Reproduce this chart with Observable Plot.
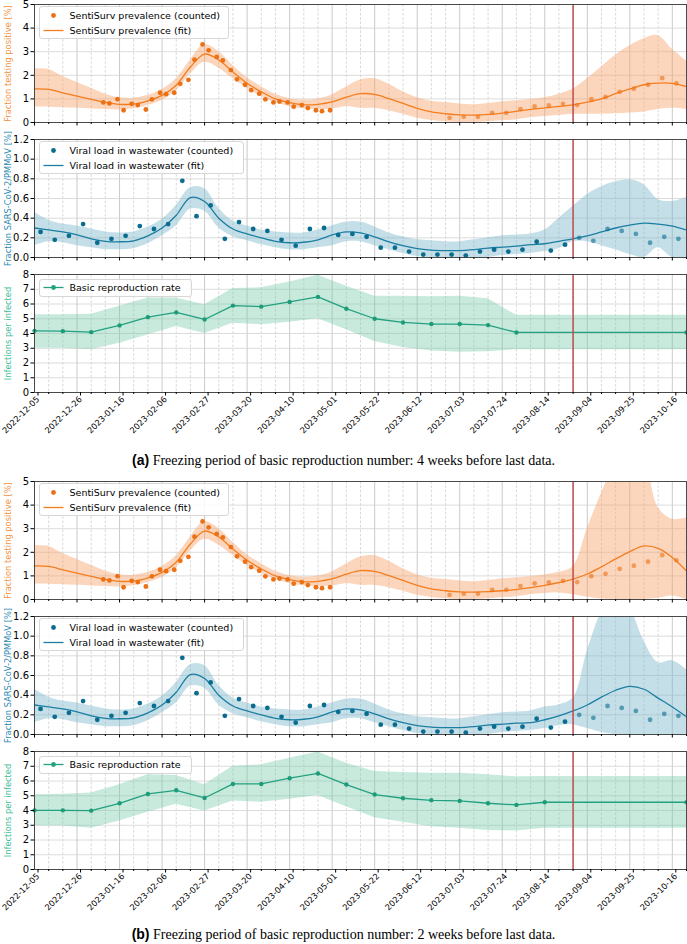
<!DOCTYPE html>
<html>
<head>
<meta charset="utf-8">
<script src="https://cdn.jsdelivr.net/npm/d3@7"></script>
<script src="https://cdn.jsdelivr.net/npm/@observablehq/plot@0.6"></script>
<style>
html, body { margin:0; padding:0; background:#fff; overflow:hidden; }
body { width:687px; }
.sub { position:relative; width:687px; }
.sub > svg { display:block; overflow:visible; }
.cap { height:35px; line-height:36px; text-align:center; font-family:"Liberation Serif","Times New Roman",serif; font-size:14px; color:#000; }
.cap.last { line-height:30px; }
.cap b { font-family:"Liberation Sans",Arial,sans-serif; font-weight:bold; }
</style>
</head>
<body>
<div id="root"></div>
<script>
// ---------- axis / time ----------
const tickLabels = ["2022-12-05","2022-12-26","2023-01-16","2023-02-06","2023-02-27","2023-03-20","2023-04-10","2023-05-01","2023-05-22","2023-06-12","2023-07-03","2023-07-24","2023-08-14","2023-09-04","2023-09-25","2023-10-16"];
const xStart = "2022-12-05", xEnd = "2023-10-23";
const lastDataDate = "2023-08-28";

// ---------- SentiSurv prevalence (counted) ----------
const prevDates1 = ["2023-01-08","2023-01-11","2023-01-15","2023-01-18","2023-01-22","2023-01-25","2023-01-29","2023-02-01","2023-02-05","2023-02-08","2023-02-12","2023-02-15","2023-02-19","2023-02-22","2023-02-26","2023-03-01","2023-03-05","2023-03-08","2023-03-12","2023-03-15","2023-03-19","2023-03-22","2023-03-26","2023-03-29","2023-04-02","2023-04-05","2023-04-09","2023-04-12","2023-04-16","2023-04-19","2023-04-23","2023-04-26","2023-04-30"];
const prevValues1 = [0.85,0.81,0.99,0.52,0.79,0.74,0.55,0.98,1.26,1.20,1.26,1.64,1.81,2.66,3.31,3.06,2.78,2.63,2.22,1.83,1.60,1.37,1.22,0.98,0.85,0.89,0.85,0.67,0.74,0.61,0.52,0.48,0.52];
const prevDates2 = ["2023-06-28","2023-07-05","2023-07-12","2023-07-19","2023-07-26","2023-08-02","2023-08-09","2023-08-16","2023-08-23","2023-08-30","2023-09-06","2023-09-13","2023-09-20","2023-09-27","2023-10-04","2023-10-11","2023-10-18"];
const prevValues2 = [0.20,0.24,0.24,0.41,0.41,0.57,0.68,0.72,0.79,0.74,0.99,1.09,1.30,1.43,1.60,1.88,1.66];

// ---------- prevalence fit (weekly, Mondays 2022-12-05 .. 2023-10-23) ----------
const prevFitA = [1.42,1.40,1.26,1.12,0.98,0.85,0.77,0.78,0.92,1.15,1.58,2.35,2.90,2.65,2.14,1.66,1.30,1.00,0.84,0.75,0.77,0.87,1.07,1.22,1.19,1.01,0.81,0.60,0.45,0.37,0.32,0.31,0.34,0.40,0.47,0.56,0.62,0.68,0.75,0.86,1.00,1.22,1.42,1.60,1.67,1.66,1.52];
const prevHiA  = [2.27,2.25,1.95,1.70,1.45,1.20,1.05,1.03,1.15,1.40,1.85,2.65,3.30,3.00,2.42,1.90,1.52,1.20,1.02,0.95,1.00,1.17,1.50,1.80,1.85,1.62,1.30,1.05,0.90,0.85,0.78,0.75,0.80,0.88,0.92,0.97,1.05,1.20,1.42,1.85,2.35,2.85,3.25,3.55,3.68,3.10,2.60];
const prevLoA  = [0.65,0.65,0.62,0.60,0.57,0.55,0.53,0.58,0.72,0.93,1.33,2.05,2.55,2.30,1.86,1.45,1.10,0.85,0.68,0.57,0.55,0.57,0.68,0.60,0.60,0.50,0.35,0.18,0.08,0.03,0.00,0.00,0.03,0.07,0.12,0.20,0.25,0.30,0.35,0.35,0.35,0.37,0.40,0.45,0.55,0.60,0.55];
const prevFitB = [1.42,1.40,1.26,1.12,0.98,0.85,0.77,0.78,0.92,1.15,1.58,2.35,2.90,2.65,2.14,1.66,1.30,1.00,0.84,0.75,0.77,0.87,1.07,1.22,1.19,1.01,0.81,0.60,0.45,0.37,0.32,0.31,0.33,0.37,0.42,0.50,0.60,0.72,0.86,1.08,1.38,1.72,2.03,2.27,2.17,1.78,1.20];
const prevHiB  = [2.27,2.25,1.95,1.70,1.45,1.20,1.05,1.03,1.15,1.40,1.85,2.65,3.30,3.00,2.42,1.90,1.52,1.20,1.02,0.95,1.00,1.17,1.50,1.80,1.85,1.62,1.30,1.05,0.90,0.85,0.78,0.75,0.80,0.88,0.92,0.97,1.05,1.15,1.40,3.00,4.50,5.80,6.50,6.00,3.90,3.40,3.45];
const prevLoB  = [0.65,0.65,0.62,0.60,0.57,0.55,0.53,0.58,0.72,0.93,1.33,2.05,2.55,2.30,1.86,1.45,1.10,0.85,0.68,0.57,0.55,0.57,0.68,0.60,0.60,0.50,0.35,0.18,0.08,0.03,0.00,0.00,0.03,0.07,0.12,0.20,0.25,0.28,0.20,0.10,0.02,0.00,0.00,0.00,0.05,0.15,0.00];

// ---------- viral load in wastewater (counted, weekly Thursdays 2022-12-08 .. 2023-10-19) ----------
const viralValues = [0.26,0.18,0.22,0.34,0.15,0.19,0.22,0.32,0.29,0.34,0.78,0.42,0.53,0.19,0.36,0.29,0.27,0.18,0.12,0.29,0.30,0.23,0.24,0.21,0.10,0.10,0.06,0.03,0.03,0.03,0.02,0.06,0.08,0.06,0.08,0.16,0.07,0.13,0.20,0.17,0.29,0.27,0.24,0.15,0.21,0.19];

// ---------- viral fit ----------
const viralFitA = [0.30,0.28,0.26,0.23,0.19,0.165,0.16,0.17,0.22,0.30,0.43,0.61,0.57,0.40,0.29,0.24,0.20,0.165,0.15,0.155,0.18,0.23,0.26,0.25,0.21,0.16,0.12,0.09,0.075,0.07,0.07,0.08,0.095,0.105,0.115,0.13,0.14,0.165,0.19,0.22,0.26,0.30,0.33,0.35,0.34,0.32,0.28];
const viralHiA  = [0.46,0.38,0.34,0.32,0.29,0.26,0.25,0.26,0.31,0.39,0.53,0.71,0.70,0.50,0.37,0.32,0.28,0.26,0.25,0.25,0.28,0.32,0.36,0.36,0.31,0.25,0.21,0.18,0.17,0.16,0.16,0.18,0.20,0.22,0.23,0.24,0.28,0.40,0.52,0.64,0.72,0.77,0.79,0.74,0.59,0.57,0.61];
const viralLoA  = [0.12,0.16,0.15,0.12,0.10,0.08,0.08,0.09,0.14,0.22,0.32,0.49,0.47,0.30,0.21,0.17,0.13,0.10,0.08,0.08,0.10,0.12,0.16,0.16,0.12,0.08,0.04,0.01,0.00,0.00,0.00,0.00,0.00,0.02,0.03,0.04,0.06,0.09,0.16,0.16,0.12,0.08,0.03,0.00,0.10,0.00,0.00];
const viralFitB = [0.30,0.28,0.26,0.23,0.19,0.165,0.16,0.17,0.22,0.30,0.43,0.61,0.57,0.40,0.29,0.24,0.20,0.165,0.15,0.155,0.18,0.23,0.26,0.25,0.21,0.16,0.12,0.09,0.075,0.07,0.07,0.08,0.095,0.105,0.115,0.12,0.15,0.19,0.24,0.30,0.38,0.45,0.49,0.46,0.37,0.28,0.18];
const viralHiB  = [0.46,0.38,0.34,0.32,0.29,0.26,0.25,0.26,0.31,0.39,0.53,0.71,0.70,0.50,0.37,0.32,0.28,0.26,0.25,0.25,0.28,0.32,0.36,0.36,0.31,0.25,0.21,0.18,0.17,0.16,0.16,0.18,0.20,0.22,0.23,0.24,0.28,0.30,0.37,0.85,1.25,1.50,1.30,0.95,0.73,0.75,0.66];
const viralLoB  = [0.12,0.16,0.15,0.12,0.10,0.08,0.08,0.09,0.14,0.22,0.32,0.49,0.47,0.30,0.21,0.17,0.13,0.10,0.08,0.08,0.10,0.12,0.16,0.16,0.12,0.08,0.04,0.01,0.00,0.00,0.00,0.00,0.00,0.02,0.03,0.04,0.06,0.09,0.10,0.06,0.02,0.00,0.00,0.00,0.00,0.00,0.00];

// ---------- basic reproduction rate ----------
const rDatesA = ["2022-12-05","2022-12-19","2023-01-02","2023-01-16","2023-01-30","2023-02-13","2023-02-27","2023-03-13","2023-03-27","2023-04-10","2023-04-24","2023-05-08","2023-05-22","2023-06-05","2023-06-19","2023-07-03","2023-07-17","2023-07-31","2023-10-23"];
const rValA  = [4.18,4.16,4.09,4.55,5.11,5.43,4.95,5.89,5.82,6.14,6.48,5.68,5.00,4.75,4.64,4.64,4.57,4.07,4.07];
const rHiA   = [5.27,5.27,5.30,5.84,6.40,6.40,5.95,7.05,7.10,7.50,7.95,7.20,6.52,6.52,6.50,6.52,6.36,5.23,5.23];
const rLoA   = [3.00,3.00,2.89,3.34,3.90,4.48,4.00,4.70,4.60,4.77,5.00,4.25,3.45,3.05,2.82,2.73,2.77,2.89,2.89];
const rDatesB = ["2022-12-05","2022-12-19","2023-01-02","2023-01-16","2023-01-30","2023-02-13","2023-02-27","2023-03-13","2023-03-27","2023-04-10","2023-04-24","2023-05-08","2023-05-22","2023-06-05","2023-06-19","2023-07-03","2023-07-17","2023-07-31","2023-08-14","2023-10-23"];
const rValB  = [4.01,4.01,3.99,4.49,5.12,5.37,4.85,5.80,5.80,6.19,6.51,5.76,5.08,4.83,4.69,4.65,4.49,4.38,4.56,4.56];
const rHiB   = [5.06,5.10,5.19,5.74,6.42,6.37,5.74,7.00,7.10,7.55,7.96,7.21,6.64,6.58,6.53,6.53,6.42,6.28,6.30,6.30];
const rLoB   = [2.97,2.95,2.79,3.29,3.88,4.42,3.97,4.65,4.56,4.76,5.01,4.26,3.51,3.20,2.90,2.79,2.65,2.61,2.79,2.79];

const captions = [
  ["(a)", "Freezing period of basic reproduction number: 4 weeks before last data."],
  ["(b)", "Freezing period of basic reproduction number: 2 weeks before last data."]
];

// ---------- colours ----------
const C = {
  prevDot:"#ec7014", prevLine:"#f47d1e", prevBand:"#f9a36a", prevLabel:"#f2933f",
  virDot:"#0a6c8f", virLine:"#1b7ea3", virBand:"#7fb9cc", virLabel:"#2a8ab3",
  rDot:"#1c9c7a", rLine:"#24a07f", rBand:"#72cbaa", rLabel:"#3dbd9a",
  red:"#bf4d50"
};

// ---------- derived ----------
const D = s => new Date(s);
const X0 = D(xStart), X1 = D(xEnd), lastData = D(lastDataDate);
const fmt = d3.utcFormat("%Y-%m-%d");
const majorDates = tickLabels.map(D);
const majorSet = new Set(tickLabels);
const weekDates = d3.utcMonday.range(X0, d3.utcDay.offset(X1, 1));
const minorDates = weekDates.filter(d => !majorSet.has(fmt(d)));
const viralDates = d3.utcThursday.range(D("2022-12-08"), D("2023-10-20"));

const prevRows = [
  ...prevDates1.map((s,i) => ({date:D(s), v:prevValues1[i], o:1})),
  ...prevDates2.map((s,i) => ({date:D(s), v:prevValues2[i], o:0.6}))
];
const viralRows = viralValues.map((v,i) => ({date:viralDates[i], v, o: viralDates[i] > lastData ? 0.6 : 1}));
const fitRows = (f, lo, hi) => weekDates.map((d,i) => ({date:d, v:f[i], lo:lo[i], hi:hi[i]}));
const rRows = (ds, v, lo, hi) => ds.map((s,i) => ({date:D(s), v:v[i], lo:lo[i], hi:hi[i]}));

const W = 687, ML = 34, MR = 1, MT = 4, PH = 118;

function legendBox(spec) {
  const s = d3.create("svg")
    .attr("width", spec.width + 2).attr("height", spec.height + 2)
    .style("position","absolute").style("left", spec.left + "px").style("top", spec.top + "px")
    .style("overflow","visible");
  s.append("rect").attr("x",0.5).attr("y",0.5).attr("width",spec.width).attr("height",spec.height)
    .attr("rx",2.5).attr("fill","rgba(255,255,255,0.85)").attr("stroke","#d2d2d2").attr("stroke-width",0.9);
  spec.entries.forEach(e => {
    if (e.line) s.append("line").attr("x1",4.5).attr("x2",24.5).attr("y1",e.y).attr("y2",e.y)
      .attr("stroke",e.color).attr("stroke-width",1.3);
    if (e.dot) s.append("circle").attr("cx",14.5).attr("cy",e.y).attr("r",2.4).attr("fill",e.color);
    s.append("text").attr("x",30.5).attr("y",e.y).attr("dy","0.36em")
      .attr("font-family","'DejaVu Sans', sans-serif").attr("font-size",9.5).attr("fill","#000").text(e.label);
  });
  return s.node();
}

function subplot({yDomain, yTicks, yFmt, yLabel, yColor, marks, bottom, legend}) {
  const mb = bottom ? 50 : 13;
  const wrap = document.createElement("div");
  wrap.className = "sub";
  const chart = Plot.plot({
    width: W, height: MT + PH + mb,
    marginLeft: ML, marginRight: MR, marginTop: MT, marginBottom: mb,
    x: {type: "utc", domain: [X0, X1]},
    y: {domain: yDomain},
    style: {fontFamily: "'DejaVu Sans', sans-serif", fontSize: "10px", color: "#000", background: "transparent", overflow: "visible"},
    marks: [
      Plot.ruleX(minorDates, {stroke: "#c9c9c9", strokeWidth: 0.7, strokeDasharray: "2.6,1.8"}),
      Plot.ruleX(majorDates, {stroke: "#bcbcbc", strokeWidth: 0.8}),
      Plot.ruleY(yTicks, {stroke: "#d3d3d3", strokeWidth: 0.8}),
      ...marks,
      Plot.ruleX([lastData], {stroke: C.red, strokeWidth: 1.8, strokeOpacity: 0.85}),
      Plot.frame({stroke: "#3a3a3a", strokeWidth: 0.9}),
      Plot.axisY({ticks: yTicks, tickSize: 3.5, tickPadding: 2, tickFormat: yFmt, label: null, fontSize: 10}),
      Plot.axisX({ticks: minorDates, tickSize: 2, tickFormat: () => "", label: null}),
      Plot.axisX({ticks: majorDates, tickSize: 3.5, tickPadding: 2, label: null, fontSize: 8.3, dx: bottom ? 3.5 : 0,
                  tickRotate: bottom ? -45 : 0, tickFormat: bottom ? fmt : () => ""}),
      Plot.text([yLabel], {text: d => d, frameAnchor: "left", textAnchor: "middle", dx: -26, rotate: -90, fill: yColor, fontSize: 8.3})
    ]
  });
  wrap.appendChild(chart);
  if (legend) wrap.appendChild(legendBox(legend));
  return wrap;
}

function figure(k, prevFit, prevLo, prevHi, virFit, virLo, virHi, rD, rV, rLo, rHi) {
  const fig = document.createElement("div");
  const pf = fitRows(prevFit, prevLo, prevHi);
  fig.appendChild(subplot({
    yDomain: [0, 5], yTicks: [0,1,2,3,4,5], yFmt: d3.format("d"),
    yLabel: "Fraction testing positive [%]", yColor: C.prevLabel,
    marks: [
      Plot.areaY(pf, {x: "date", y1: "lo", y2: "hi", fill: C.prevBand, fillOpacity: 0.45, curve: "catmull-rom", clip: true}),
      Plot.line(pf, {x: "date", y: "v", stroke: C.prevLine, strokeWidth: 1.3, curve: "catmull-rom", clip: true}),
      Plot.dot(prevRows, {x: "date", y: "v", r: 2.4, fill: C.prevDot, fillOpacity: "o", stroke: null})
    ],
    legend: {left: 39, top: 6, width: 189, height: 32, entries: [
      {dot: true, color: C.prevDot, y: 9.5, label: "SentiSurv prevalence (counted)"},
      {line: true, color: C.prevLine, y: 24.5, label: "SentiSurv prevalence (fit)"}
    ]}
  }));
  const vf = fitRows(virFit, virLo, virHi);
  fig.appendChild(subplot({
    yDomain: [0, 1.2], yTicks: [0,0.2,0.4,0.6,0.8,1.0,1.2], yFmt: d3.format(".1f"),
    yLabel: "Fraction SARS-CoV-2/PMMoV [%]", yColor: C.virLabel,
    marks: [
      Plot.areaY(vf, {x: "date", y1: "lo", y2: "hi", fill: C.virBand, fillOpacity: 0.45, curve: "catmull-rom", clip: true}),
      Plot.line(vf, {x: "date", y: "v", stroke: C.virLine, strokeWidth: 1.3, curve: "catmull-rom", clip: true}),
      Plot.dot(viralRows, {x: "date", y: "v", r: 2.4, fill: C.virDot, fillOpacity: "o", stroke: null})
    ],
    legend: {left: 39, top: 5.5, width: 204, height: 32, entries: [
      {dot: true, color: C.virDot, y: 9.5, label: "Viral load in wastewater (counted)"},
      {line: true, color: C.virLine, y: 24.5, label: "Viral load in wastewater (fit)"}
    ]}
  }));
  const rr = rRows(rD, rV, rLo, rHi);
  fig.appendChild(subplot({
    yDomain: [0, 8], yTicks: [0,1,2,3,4,5,6,7,8], yFmt: d3.format("d"),
    yLabel: "Infections per infected", yColor: C.rLabel, bottom: true,
    marks: [
      Plot.areaY(rr, {x: "date", y1: "lo", y2: "hi", fill: C.rBand, fillOpacity: 0.4, clip: true}),
      Plot.line(rr, {x: "date", y: "v", stroke: C.rLine, strokeWidth: 1.3}),
      Plot.dot(rr, {x: "date", y: "v", r: 2.2, fill: C.rDot, stroke: null})
    ],
    legend: {left: 38.5, top: 9, width: 152, height: 17, entries: [
      {dot: true, line: true, color: C.rLine, y: 8.5, label: "Basic reproduction rate"}
    ]}
  }));
  const cap = document.createElement("div");
  cap.className = k === 1 ? "cap last" : "cap";
  const b = document.createElement("b");
  b.textContent = captions[k][0];
  cap.appendChild(b);
  cap.appendChild(document.createTextNode(" " + captions[k][1]));
  fig.appendChild(cap);
  return fig;
}

const root = document.getElementById("root");
root.appendChild(figure(0, prevFitA, prevLoA, prevHiA, viralFitA, viralLoA, viralHiA, rDatesA, rValA, rLoA, rHiA));
root.appendChild(figure(1, prevFitB, prevLoB, prevHiB, viralFitB, viralLoB, viralHiB, rDatesB, rValB, rLoB, rHiB));
</script>
</body>
</html>
